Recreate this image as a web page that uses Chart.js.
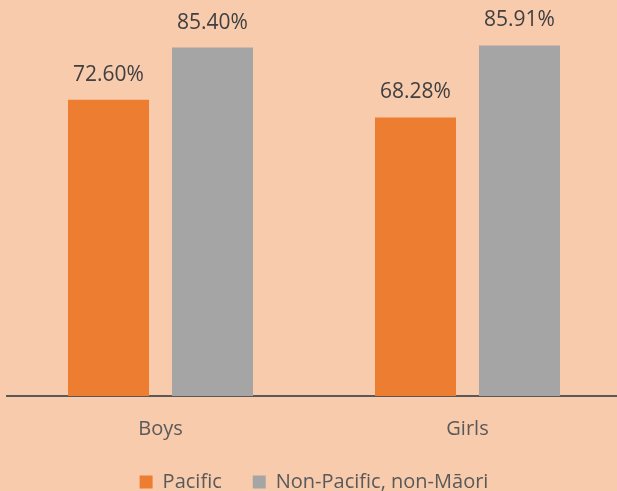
<!DOCTYPE html>
<html>
<head>
<meta charset="utf-8">
<script src="https://cdn.jsdelivr.net/npm/chart.js@4.4.1/dist/chart.umd.min.js"></script>
<style>
    html, body { margin: 0; padding: 0; width: 617px; height: 491px; overflow: hidden; background: #F8CBAD; }
    #chart { position: absolute; left: 0; top: -12px; }
</style>
</head>
<body>
<canvas id="chart" width="624" height="514"></canvas>
<script>
const categories = ['Boys', 'Girls'];
const pacific = [72.60, 68.28];
const nonPacific = [85.40, 85.91];

// draws the % value above every bar
const barLabels = {
    id: 'barLabels',
    afterDatasetsDraw(chart) {
        const ctx = chart.ctx;
        ctx.save();
        ctx.font = '21px "Open Sans"';
        ctx.fillStyle = '#404040';
        ctx.textAlign = 'center';
        ctx.textBaseline = 'middle';
        chart.data.datasets.forEach((ds, i) => {
            chart.getDatasetMeta(i).data.forEach((bar, j) => {
                ctx.fillText(ds.data[j].toFixed(2) + '%', bar.x, bar.y - 25);
            });
        });
        ctx.restore();
    }
};

Chart.defaults.font.family = '"Open Sans"';

new Chart(document.querySelector('#chart'), {
    type: 'bar',
    plugins: [barLabels],
    data: {
        labels: categories,
        datasets: [
            {
                label: 'Pacific',
                data: pacific,
                backgroundColor: '#ED7D31',
                categoryPercentage: 0.6775,
                barPercentage: 0.779,
            },
            {
                label: 'Non-Pacific, non-Māori',
                data: nonPacific,
                backgroundColor: '#A5A5A5',
                categoryPercentage: 0.6775,
                barPercentage: 0.779,
            }
        ]
    },
    options: {
        responsive: false,
        animation: false,
        devicePixelRatio: 1,
        layout: { padding: { left: 7, right: 3, top: 0, bottom: 0 } },
        scales: {
            y: { display: false, min: 0, max: 100 },
            x: {
                grid: { display: false, drawTicks: false },
                border: { display: true, color: '#595959', width: 2 },
                ticks: { color: '#595959', font: { size: 20 }, padding: 21 },
                afterFit: axis => { axis.height = 45; }
            }
        },
        plugins: {
            tooltip: { enabled: false },
            legend: {
                position: 'bottom',
                labels: {
                    color: '#595959',
                    font: { size: 20 },
                    boxWidth: 13,
                    boxHeight: 13,
                    padding: 31
                }
            }
        }
    }
});
</script>
</body>
</html>
